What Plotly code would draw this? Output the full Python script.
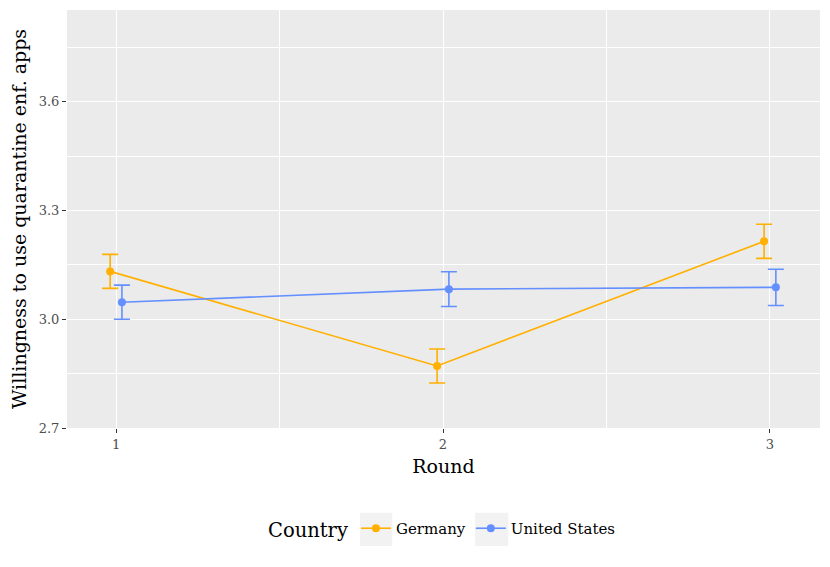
import plotly.graph_objects as go

rounds = [1, 2, 3]
countries = ["Germany", "United States"]
germany_mean = [3.132, 2.871, 3.215]
germany_err = [0.047, 0.047, 0.047]
us_mean = [3.047, 3.083, 3.088]
us_err = [0.047, 0.048, 0.050]
colors = {"Germany": "#FFB000", "United States": "#648FFF"}
dodge = {"Germany": -0.018, "United States": 0.018}

font_family = "DejaVu Serif, Liberation Serif, serif"

fig = go.Figure()
for name, means, errs in [("Germany", germany_mean, germany_err),
                          ("United States", us_mean, us_err)]:
    xs = [r + dodge[name] for r in rounds]
    fig.add_trace(go.Scatter(
        x=xs, y=means, name=name, mode="lines+markers",
        line=dict(color=colors[name], width=1.6),
        marker=dict(color=colors[name], size=8),
        error_y=dict(type="data", array=errs, color=colors[name],
                     thickness=1.6, width=8),
    ))

# grey legend-key backgrounds (paper coordinates)
for x0, x1 in [(0.389, 0.432), (0.542, 0.586)]:
    fig.add_shape(type="rect", xref="paper", yref="paper", x0=x0, x1=x1,
                  y0=-0.282, y1=-0.203, fillcolor="#F2F2F2", line=dict(width=0),
                  layer="below")

fig.update_layout(
    width=822, height=559,
    paper_bgcolor="white", plot_bgcolor="#EBEBEB",
    margin=dict(l=59, r=10, t=2, b=139),
    font=dict(family=font_family, color="black"),
    showlegend=True,
    legend=dict(orientation="h", x=0.5, xanchor="center", y=-0.244, yanchor="middle",
                title=dict(text="Country", font=dict(size=19.5, color="black")),
                font=dict(size=15, color="black"), bgcolor="rgba(0,0,0,0)"),
)
fig.update_xaxes(
    range=[0.85, 3.153], tickvals=rounds, ticktext=[str(r) for r in rounds],
    showgrid=True, gridcolor="white", gridwidth=1.4,
    minor=dict(tickvals=[1.5, 2.5], showgrid=True, gridcolor="white", gridwidth=0.7),
    ticks="outside", ticklen=4, tickcolor="#333333", tickwidth=1.2,
    tickfont=dict(size=13, color="#4D4D4D"),
    title=dict(text="Round", font=dict(size=19, color="black"), standoff=9),
    zeroline=False, showline=False,
)
fig.update_yaxes(
    range=[2.7, 3.853], tickvals=[2.7, 3.0, 3.3, 3.6], ticktext=["2.7", "3.0", "3.3", "3.6"],
    showgrid=True, gridcolor="white", gridwidth=1.4,
    minor=dict(tickvals=[2.85, 3.15, 3.45, 3.75], showgrid=True, gridcolor="white", gridwidth=0.7),
    ticks="outside", ticklen=4, tickcolor="#333333", tickwidth=1.2,
    tickfont=dict(size=13, color="#4D4D4D"),
    title=dict(text="Willingness to use quarantine enf. apps", font=dict(size=19, color="black"), standoff=8),
    zeroline=False, showline=False,
)
fig.write_html("out.html")
